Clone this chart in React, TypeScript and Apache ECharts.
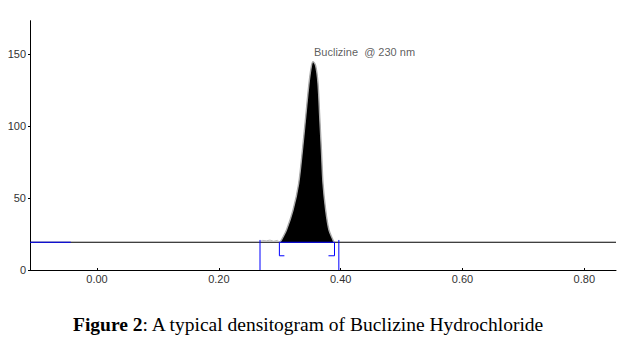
import React, { useEffect, useRef } from "react";
import * as echarts from "echarts";

const X_MIN = -0.11;
const X_MAX = 0.852;
const Y_MAX = 173.4;
const BASE = 19.3;

const xTicks = [0, 0.2, 0.4, 0.6, 0.8];
const yTicks = [0, 50, 100, 150];

const peakX = [0.300, 0.3028, 0.311, 0.3218, 0.3311, 0.3372, 0.3426, 0.348, 0.352, 0.3546, 0.359, 0.3628, 0.3656, 0.3684, 0.371, 0.3754, 0.3808, 0.3874, 0.389];
const peakY = [19.3, 20.9, 27.8, 41.7, 60.3, 83.4, 106.6, 129.8, 142, 144.9, 142, 129.8, 106.6, 83.4, 60.3, 41.7, 27.8, 20.9, 19.3];

const noiseX = [0.2676, 0.272, 0.278, 0.284, 0.29, 0.296, 0.3];
const noiseY = [19.8, 20.6, 20.3, 20.8, 20.0, 20.6, 19.3];

const peakLabel = "Buclizine  @ 230 nm";
const peakTop = [0.3546, 144.9];

const leftBlueStart = -0.11;
const leftBlueEnd = -0.043;
const startLineX = 0.2676;
const endLineX = 0.397;
const bracketLeftX = 0.2994;
const bracketLeftFoot = 0.3076;
const bracketRightX = 0.3899;
const bracketRightFoot = 0.380;
const bracketBottom = 9.9;
const markerTop = 20.9;

const captionBold = "Figure 2";
const captionRest = ": A typical densitogram of Buclizine Hydrochloride";

const zip = (xs: number[], ys: number[]) => xs.map((x, i) => [x, ys[i]]);

export default function App() {
  const ref = useRef<HTMLDivElement>(null);
  useEffect(() => {
    document.body.style.margin = "0";
    if (!ref.current) return;
    const chart = echarts.init(ref.current, undefined, { renderer: "svg" });
    const blue = "#0000ff";
    const blueLine = (data: number[][]) => ({
      type: "line",
      data,
      showSymbol: false,
      symbol: "none",
      lineStyle: { color: blue, width: 1 },
      silent: true,
      z: 5,
    });
    chart.setOption({
      animation: false,
      title: {
        text: `{b|${captionBold}}{n|${captionRest}}`,
        left: 73,
        top: 314,
        padding: 0,
        textStyle: {
          rich: {
            b: { fontFamily: "Liberation Serif", fontWeight: "bold", fontSize: 19.5, color: "#000" },
            n: { fontFamily: "Liberation Serif", fontWeight: "normal", fontSize: 19.5, color: "#000" },
          },
        },
      },
      grid: { left: 30, right: 21, top: 20.7, bottom: 73, containLabel: false },
      xAxis: {
        type: "value",
        min: X_MIN,
        max: X_MAX,
        splitLine: { show: false },
        axisLine: { show: true, onZero: false, lineStyle: { color: "#000", width: 1 } },
        axisTick: { show: true, inside: true, length: 2, customValues: xTicks, lineStyle: { color: "#000" } },
        axisLabel: {
          customValues: xTicks,
          formatter: (v: number) => v.toFixed(2),
          fontFamily: "Liberation Sans",
          fontSize: 11,
          color: "#333",
          margin: 3,
        },
      },
      yAxis: {
        type: "value",
        min: 0,
        max: Y_MAX,
        splitLine: { show: false },
        axisLine: { show: true, onZero: false, lineStyle: { color: "#000", width: 1 } },
        axisTick: { show: true, length: 2, customValues: yTicks, lineStyle: { color: "#000" } },
        axisLabel: {
          customValues: yTicks,
          fontFamily: "Liberation Sans",
          fontSize: 11,
          color: "#333",
          margin: 4,
        },
      },
      series: [
        {
          type: "line",
          data: [[X_MIN, BASE], [X_MAX, BASE]],
          showSymbol: false,
          symbol: "none",
          lineStyle: { color: "#000", width: 1.2 },
          z: 2,
        },
        {
          type: "line",
          data: zip(peakX, peakY),
          showSymbol: false,
          symbol: "none",
          smooth: 0.3,
          lineStyle: { color: "#aaa", width: 1.4 },
          areaStyle: { color: "#000", opacity: 1, origin: BASE },
          z: 3,
        },
        {
          type: "line",
          data: zip(noiseX, noiseY),
          showSymbol: false,
          symbol: "none",
          lineStyle: { color: "#bbb", width: 1 },
          z: 3,
        },
        blueLine([[leftBlueStart, BASE], [leftBlueEnd, BASE]]),
        blueLine([[startLineX, 0], [startLineX, markerTop]]),
        blueLine([[endLineX, 0], [endLineX, markerTop]]),
        blueLine([[bracketLeftFoot, bracketBottom], [bracketLeftX, bracketBottom], [bracketLeftX, BASE], [bracketRightX, BASE], [bracketRightX, bracketBottom], [bracketRightFoot, bracketBottom]]),
        {
          type: "scatter",
          data: [peakTop],
          symbolSize: 0,
          itemStyle: { color: "transparent" },
          label: {
            show: true,
            formatter: peakLabel,
            position: "right",
            distance: 1,
            offset: [0, -10],
            fontFamily: "Liberation Sans",
            fontSize: 11,
            color: "#333",
          },
          z: 6,
        },
      ],
    });
    return () => chart.dispose();
  }, []);
  return <div ref={ref} style={{ width: 637, height: 343 }} />;
}
